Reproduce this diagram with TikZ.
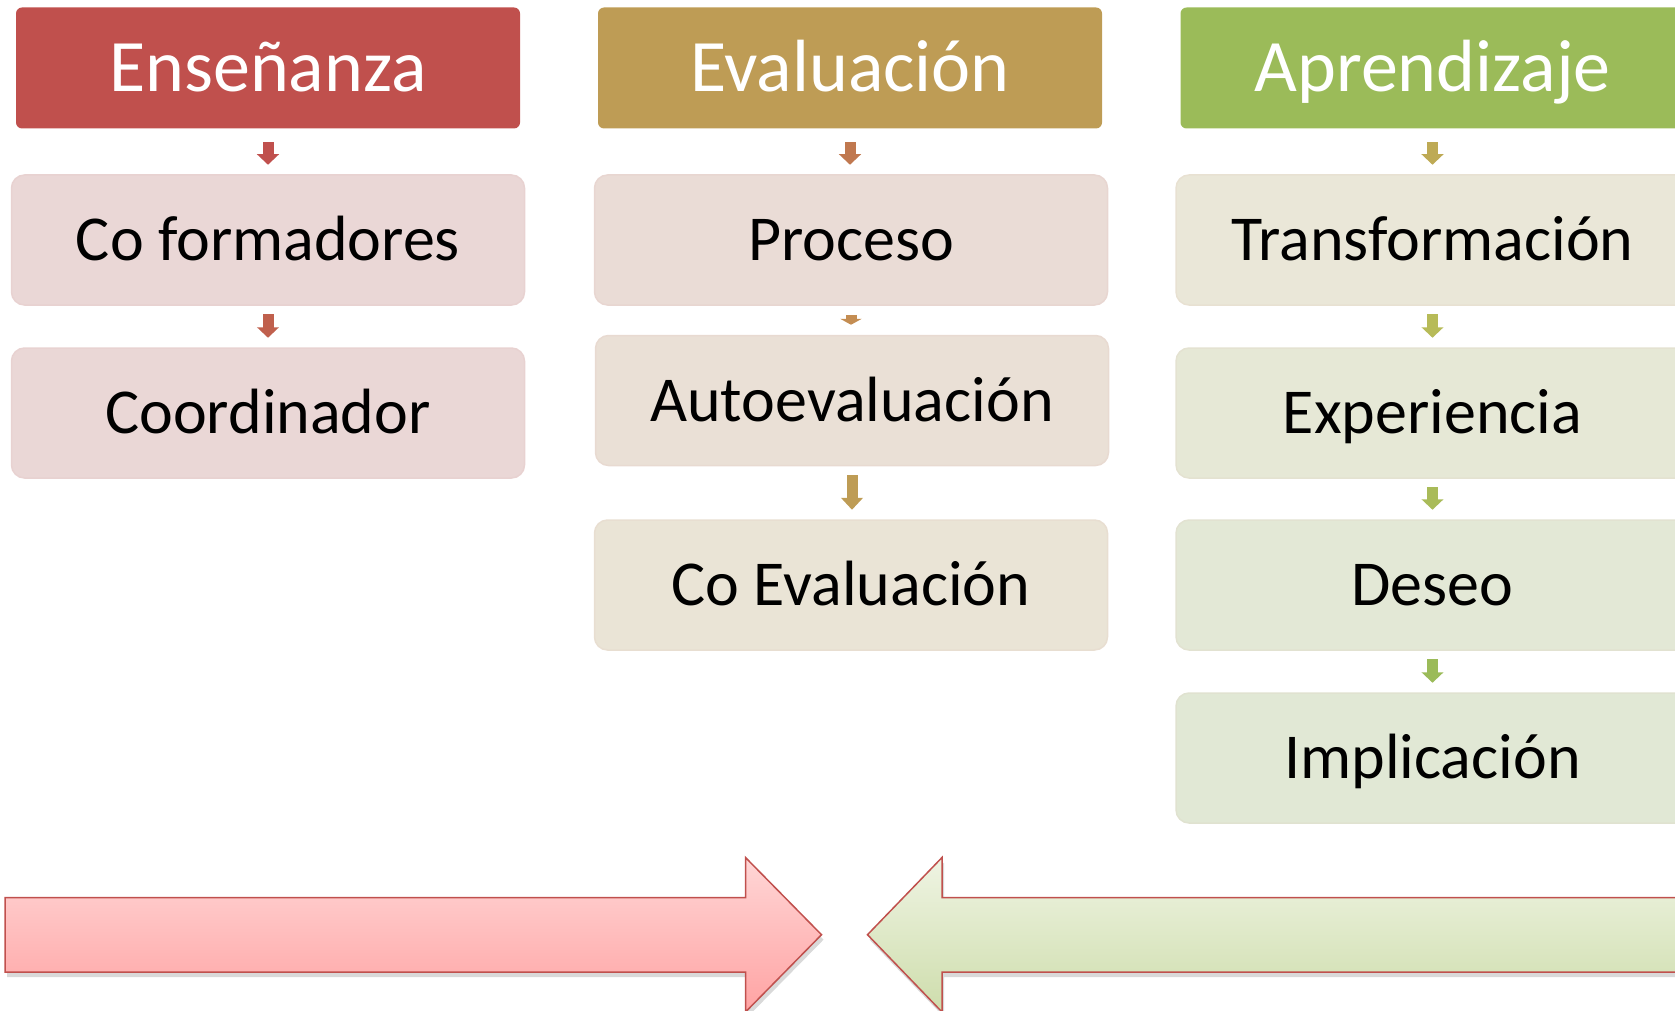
\documentclass[tikz,border=0pt]{standalone}
\usepackage{fontspec}
\setmainfont{Carlito}
\usepackage{tikz}
\usetikzlibrary{calc, arrows.meta, shadows}

\definecolor{ensred}{HTML}{C0504D}
\definecolor{evaltan}{HTML}{BE9C55}
\definecolor{aprgreen}{HTML}{9BBB59}
\definecolor{ensbox}{HTML}{EAD7D6}
\definecolor{procbox}{HTML}{EADCD6}
\definecolor{autobox}{HTML}{EAE0D6}
\definecolor{coevbox}{HTML}{EAE4D6}
\definecolor{transbox}{HTML}{EAE7D8}
\definecolor{experbox}{HTML}{E6E8D6}
\definecolor{deseobox}{HTML}{E3E8D6}
\definecolor{implbox}{HTML}{E1E8D5}
\definecolor{flowa}{HTML}{C0604D}
\definecolor{flowb}{HTML}{C0784F}
\definecolor{flowc}{HTML}{C48D52}
\definecolor{flowd}{HTML}{BEAA55}
\definecolor{flowe}{HTML}{B7BB58}
\definecolor{flowf}{HTML}{A9BB59}
\definecolor{pinktop}{HTML}{FFD6D6}
\definecolor{pinkbot}{HTML}{FFA3A3}
\definecolor{greentop}{HTML}{EFF4E3}
\definecolor{greenbot}{HTML}{CEDDAC}

\begin{document}
\begin{tikzpicture}[x=1pt, y=1pt,
    head/.style={fill=#1, rounded corners=6pt, minimum width=504pt, minimum height=121pt,
      text=white, font=\fontsize{74}{80}\selectfont, text height=60pt, text depth=13pt},
    item/.style={fill=#1, draw=#1!96!ensred, line width=1.5pt, rounded corners=13pt,
      minimum width=513pt, minimum height=130pt,
      font=\fontsize{64}{70}\selectfont, text height=53pt, text depth=12pt},
    flow/.style={draw=#1, line width=11pt, -{Triangle[width=21.5pt, length=10.5pt]}},
    bigarrow/.style={draw=ensred, line width=1.5pt, line join=miter,
      drop shadow={shadow xshift=2pt, shadow yshift=-5pt, opacity=0.3}}]
        \useasboundingbox (0,0) rectangle (1675,-1011);
        \clip (0,0) rectangle (1675,-1011);

        % Enseñanza
        \node[head=ensred] (ens) at (268,-68) {Enseñanza};
        \node[item=ensbox] (cofo) at (268,-240) {Co formadores};
        \node[item=ensbox] (coord) at (268,-413) {Coordinador};

        % Evaluación
        \node[head=evaltan] (eval) at (850,-68) {Evaluación};
        \node[item=procbox] (proc) at (851,-240) {Proceso};
        \node[item=autobox] (auto) at (852,-400.5) {Autoevaluación};
        \node[item=coevbox] (coev) at (851,-585) {Co Evaluación};

        % Aprendizaje
        \node[head=aprgreen] (apr) at (1432.5,-68) {Aprendizaje};
        \node[item=transbox] (trans) at (1432.5,-240) {Transformación};
        \node[item=experbox] (exper) at (1432.5,-413) {Experiencia};
        \node[item=deseobox] (deseo) at (1432.5,-585) {Deseo};
        \node[item=implbox] (impl) at (1432.5,-758) {Implicación};

        \draw[flow=ensred, shorten <=13.5pt, shorten >=9.5pt] (ens.south) -- (cofo.north);
        \draw[flow=flowa, shorten <=8.5pt, shorten >=9.5pt] (cofo.south) -- (coord.north);

        \draw[flow=flowb, shorten <=13.5pt, shorten >=9.5pt] (eval.south) -- (eval.south |- proc.north);
        \draw[flow=flowc, shorten <=9pt, shorten >=10pt, -{Triangle[width=21.5pt, length=6pt]}] (proc.south) -- (proc.south |- auto.north);
        \draw[flow=evaltan, shorten <=9pt, shorten >=9.5pt, -{Triangle[width=21.5pt, length=12pt]}] (auto.south) -- (auto.south |- coev.north);

        \draw[flow=flowd, shorten <=13.5pt, shorten >=9.5pt] (apr.south) -- (trans.north);
        \draw[flow=flowe, shorten <=8.5pt, shorten >=9.5pt] (trans.south) -- (exper.north);
        \draw[flow=flowf, shorten <=8.5pt, shorten >=9.5pt] (exper.south) -- (deseo.north);
        \draw[flow=aprgreen, shorten <=8.5pt, shorten >=9.5pt] (deseo.south) -- (impl.north);

        % big arrows
        \path[bigarrow, top color=pinktop, bottom color=pinkbot]
            (5,-897.5) -- (745.5,-897.5) -- (745.5,-857.5) -- (821.5,-934.7)
            -- (745.5,-1012) -- (745.5,-972) -- (5,-972) -- cycle;
        \path[bigarrow, top color=greentop, bottom color=greenbot]
            (1700,-897.5) -- (942,-897.5) -- (942,-857.5) -- (867.5,-934.7)
            -- (942,-1012) -- (942,-972) -- (1700,-972) -- cycle;
\end{tikzpicture}
\end{document}
